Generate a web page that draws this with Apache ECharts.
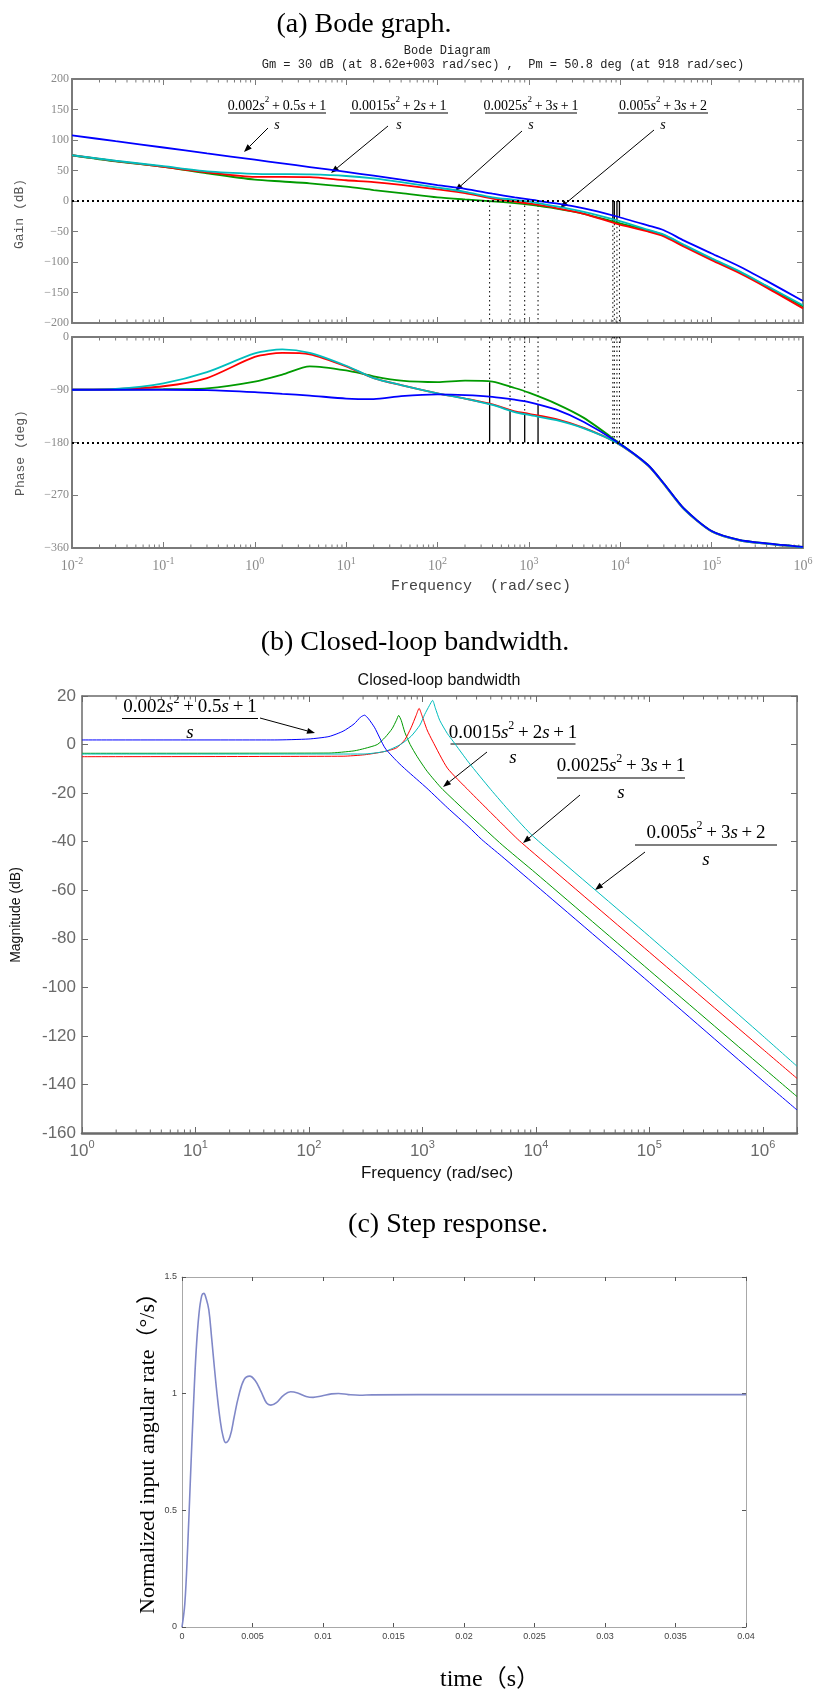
<!DOCTYPE html>
<html>
<head>
<meta charset="utf-8">
<title>Bode graph / closed-loop bandwidth / step response</title>
<script src="https://cdn.jsdelivr.net/npm/echarts@6/dist/echarts.min.js"></script>
<style>
  html, body { margin: 0; padding: 0; background: #fff; }
  #main { width: 816px; height: 1693px; }
</style>
</head>
<body>
<div id="main"></div>
<script>
// ---------------- (a) Bode data (open loop) ----------------
const bodeFreq = [0.01, 0.03, 0.1, 0.3, 1, 2, 4, 10, 20, 40, 100, 200, 400, 700, 1000,
  2000, 4000, 9000, 20000, 30000, 50000, 100000, 200000, 400000, 1000000];

const gainBlue  = [107.7, 98, 87.7, 78, 67.7, 61.7, 55.7, 47.7, 41.5, 35, 26, 20, 12, 6, 2.5,
  -4, -12, -25, -40, -48, -65, -86, -107, -131, -164];
const gainRed   = [75, 65.5, 56, 47, 39.5, 39.5, 39, 34, 31, 26.5, 19, 13, 4, -1, -4,
  -11.5, -21, -37, -50, -58, -75, -97, -118, -142, -176];
const gainCyan  = [75, 66, 57, 48.5, 44.5, 44, 43.5, 41, 37, 31, 22, 15, 6, 2, -1,
  -9, -18, -31.5, -47, -55, -72, -94, -115, -139, -171];
const gainGreen = [75, 65, 56, 45.5, 35, 32, 29, 23.5, 18, 13, 6, 2.5, -0.5, -3.5, -6,
  -12.5, -21, -35, -48, -56, -73, -95, -116, -140, -173];

const phaseBlue  = [-90, -90, -90, -90.5, -94, -97, -100, -105, -106, -101, -98, -99, -102, -107, -111,
  -124, -145, -178, -218, -250, -293, -331, -346, -352, -358];
const phaseRed   = [-90, -89, -84, -70, -34, -27, -29.5, -50, -70, -82, -96, -105, -115, -127, -131,
  -140, -155, -180, -219, -251, -294, -332, -347, -353, -359];
const phaseCyan  = [-90, -88.5, -79, -60, -28, -21, -27, -49, -70, -82, -96, -105, -116, -128, -133,
  -142, -156, -180, -219, -251, -294, -332, -347, -353, -359];
const phaseGreen = [-90, -89.8, -89, -87.5, -76, -64, -50, -57, -67, -74.5, -77, -74.5, -76, -87, -95,
  -114, -138, -177, -218, -250, -293, -331, -346, -352, -358];

// gain crossover (phase margin) and phase crossover (gain margin) markers
const crossFreq  = [372, 622, 900, 1260];
const crossPhase = [-77, -124, -131, -115];
const gmFreq     = [8300, 8620, 9200, 9800];
const gmGain     = [-33, -30, -35, -25];

// ---------------- (b) closed-loop magnitude, [rad/s, dB] ----------------
const clBlue = [[1, 1.9], [50, 1.9], [100, 2.3], [150, 3.3], [200, 5.5], [250, 8.5], [285, 11.3],
  [309, 12.1], [335, 10.6], [380, 6.9], [468, -1.4], [600, -7], [721, -10.5], [1096, -18],
  [1660, -26], [2570, -34], [3311, -39], [5000, -46], [10000, -58], [100000, -98],
  [1000000, -138.5], [2000000, -150.5]];
const clGreen = [[1, -3.6], [150, -3.5], [250, -2.6], [310, -1.6], [400, 0], [470, 3], [540, 6.5],
  [590, 10], [617, 12], [650, 10], [700, 5], [780, 0], [900, -5], [1100, -11], [1510, -18.5],
  [4786, -40.4], [10000, -53], [100000, -93], [1000000, -133], [2000000, -145]];
const clRed = [[1, -5], [200, -4.8], [310, -4.2], [450, -3], [589, -1.4], [700, 2], [794, 6.9],
  [880, 12], [935, 14.9], [990, 12], [1100, 6], [1230, 1.4], [1660, -9.7], [2570, -19],
  [4000, -28], [6918, -39], [10000, -45.5], [100000, -85.5], [1000000, -125.5], [2000000, -137.5]];
const clCyan = [[1, -3.9], [300, -3.9], [468, -2.8], [640, 0], [794, 3.4], [950, 8], [1047, 12.4],
  [1150, 16], [1230, 18.2], [1300, 15], [1420, 10], [1660, 4.5], [1860, 1.4], [2570, -7.5],
  [4000, -18.5], [6000, -28], [9550, -38], [100000, -79], [1000000, -120], [2000000, -132.5]];

// ---------------- (c) step response ----------------
const stepTime = [0, 0.0002, 0.0004, 0.0006, 0.0008, 0.001, 0.0012, 0.0014, 0.00155, 0.0017,
  0.0019, 0.0021, 0.0023, 0.0025, 0.0027, 0.0029, 0.0031, 0.0034, 0.0037, 0.004, 0.0044,
  0.0048, 0.0052, 0.0056, 0.006, 0.0063, 0.0067, 0.0072, 0.0077, 0.0082, 0.0088, 0.0093,
  0.0099, 0.0106, 0.0111, 0.0118, 0.0126, 0.0135, 0.02, 0.03, 0.04];
const stepValue = [0, 0.1, 0.34, 0.64, 0.93, 1.18, 1.34, 1.42, 1.43, 1.41, 1.36, 1.24, 1.11,
  0.99, 0.89, 0.82, 0.79, 0.815, 0.9, 0.985, 1.06, 1.075, 1.055, 1.01, 0.96, 0.951, 0.962,
  0.993, 1.008, 1.003, 0.988, 0.984, 0.99, 0.999, 1.001, 0.996, 0.993, 0.995, 0.996, 0.996, 0.996];

// ---------------- styling ----------------
const SERIF = '"Liberation Serif", "Times New Roman", serif';
const MONO = '"Liberation Mono", "DejaVu Sans Mono", monospace';
const SANS = '"Liberation Sans", Arial, sans-serif';
const CJK = '"Liberation Serif", "Noto Sans CJK SC", serif';

const BLUE = '#0000ff', RED = '#ff0000', CYAN = '#00bdbd', GREEN = '#009a00';
const BODE_AX = '#7a7a7a', CL_AX = '#6a6a6a', STEP_AX = '#a8a8a8';

function pairs(xs, ys) { return xs.map((x, i) => [x, ys[i]]); }

function logLabel(v) {
  const e = Math.log10(v), r = Math.round(e);
  if (Math.abs(e - r) > 1e-6) return '';
  return '{b|10}{e|' + r + '}';
}

function minorTicks(lo, hi) {
  const out = [];
  for (let d = Math.floor(Math.log10(lo)); d < Math.ceil(Math.log10(hi)); d++) {
    for (let k = 2; k <= 9; k++) {
      const v = k * Math.pow(10, d);
      if (v > lo && v < hi) out.push(v);
    }
  }
  return out;
}

function xLog(grid, min, max, pos, color, width, label) {
  return {
    type: 'log', logBase: 10, gridIndex: grid, min: min, max: max, interval: 1, position: pos,
    axisLine: { show: true, onZero: false, lineStyle: { color: color, width: width } },
    axisTick: { show: true, inside: true, length: 6, lineStyle: { color: color, width: 1 } },
    axisLabel: label ? Object.assign({ show: true, formatter: logLabel, showMinLabel: true, showMaxLabel: true }, label)
                     : { show: false },
    splitLine: { show: false }
  };
}

function yVal(grid, min, max, interval, pos, color, width, label) {
  return {
    type: 'value', gridIndex: grid, min: min, max: max, interval: interval, position: pos,
    axisLine: { show: true, onZero: false, lineStyle: { color: color, width: width } },
    axisTick: { show: true, inside: true, length: 6, lineStyle: { color: color, width: 1 } },
    axisLabel: label ? Object.assign({ show: true }, label) : { show: false },
    splitLine: { show: false }
  };
}

const bodeLabel = {
  margin: 8, color: '#8a8a8a',
  rich: {
    b: { fontFamily: SERIF, fontSize: 14, color: '#8a8a8a', lineHeight: 20 },
    e: { fontFamily: SERIF, fontSize: 10, color: '#8a8a8a', verticalAlign: 'top', lineHeight: 10 }
  }
};
const clLabel = {
  margin: 6, color: '#6a6a6a',
  rich: {
    b: { fontFamily: SANS, fontSize: 17, color: '#6a6a6a', lineHeight: 24 },
    e: { fontFamily: SANS, fontSize: 11, color: '#6a6a6a', verticalAlign: 'top', lineHeight: 11 }
  }
};
const bodeYLabel = {
  margin: 3, fontFamily: SERIF, fontSize: 12, color: '#8a8a8a',
  formatter: v => (v < 0 ? '\u2212' + (-v) : String(v))
};

function curve(data, xi, yi, color, width, smooth) {
  return {
    type: 'line', xAxisIndex: xi, yAxisIndex: yi, data: data, symbol: 'none',
    smooth: smooth, lineStyle: { color: color, width: width }, silent: true, z: 3
  };
}

function seg(xi, yi, x, y1, y2, dotted) {
  return {
    type: 'line', xAxisIndex: xi, yAxisIndex: yi, data: [[x, y1], [x, y2]], symbol: 'none',
    silent: true, z: 2,
    lineStyle: { color: '#000', width: dotted ? 1 : 1.3, type: dotted ? [1.5, 3] : 'solid' }
  };
}

function minorSeries(xi, yi, lo, hi, yRef, color, len) {
  return {
    type: 'custom', xAxisIndex: xi, yAxisIndex: yi, silent: true, clip: false, z: 1,
    data: minorTicks(lo, hi).map(v => [v, yRef]),
    renderItem: function (params, api) {
      const x = api.coord([api.value(0), api.value(1)])[0];
      const cs = params.coordSys;
      const st = { stroke: color, lineWidth: 1 };
      return {
        type: 'group', children: [
          { type: 'line', shape: { x1: x, y1: cs.y + cs.height, x2: x, y2: cs.y + cs.height - len }, style: st },
          { type: 'line', shape: { x1: x, y1: cs.y, x2: x, y2: cs.y + len }, style: st }
        ]
      };
    }
  };
}

// ---------------- series ----------------
const series = [];

// Bode gain (grid 0) and phase (grid 1)
[[gainGreen, GREEN], [gainRed, RED], [gainCyan, CYAN], [gainBlue, BLUE]].forEach(([g, c]) => {
  series.push(curve(pairs(bodeFreq, g), 0, 0, c, 1.8, 0.25));
});
[[phaseGreen, GREEN], [phaseRed, RED], [phaseCyan, CYAN], [phaseBlue, BLUE]].forEach(([p, c]) => {
  series.push(curve(pairs(bodeFreq, p), 2, 2, c, 1.8, 0.25));
});
series[0].markLine = {
  silent: true, symbol: 'none', label: { show: false }, animation: false,
  lineStyle: { color: '#000', width: 2, type: [2, 3] }, data: [{ yAxis: 0 }]
};
series[4].markLine = {
  silent: true, symbol: 'none', label: { show: false }, animation: false,
  lineStyle: { color: '#000', width: 2, type: [2, 3] }, data: [{ yAxis: -180 }]
};

crossFreq.forEach((f, i) => {
  series.push(seg(0, 0, f, 0, -200, true));
  series.push(seg(2, 2, f, 0, crossPhase[i], true));
  series.push(seg(2, 2, f, crossPhase[i], -180, false));
});
gmFreq.forEach((f, i) => {
  series.push(seg(0, 0, f, 0, gmGain[i], false));
  series.push(seg(0, 0, f, gmGain[i], -200, true));
  series.push(seg(2, 2, f, 0, -180, true));
});

// closed-loop (grid 2)
[[clGreen, GREEN], [clRed, RED], [clCyan, CYAN], [clBlue, BLUE]].forEach(([d, c]) => {
  series.push(curve(d, 4, 4, c, 1, 0.2));
});

// step (grid 3)
series.push(curve(pairs(stepTime, stepValue), 6, 6, '#8088c8', 1.6, 0.4));

// minor log ticks
series.push(minorSeries(0, 0, 0.01, 1e6, -200, BODE_AX, 3.5));
series.push(minorSeries(2, 2, 0.01, 1e6, -360, BODE_AX, 3.5));
series.push(minorSeries(4, 4, 1, 2e6, -160, CL_AX, 3.5));

// ---------------- annotations ----------------
function fracRich(size) {
  return {
    i: { fontFamily: SERIF, fontSize: size, fontStyle: 'italic', lineHeight: size + 8 },
    sup: { fontFamily: SERIF, fontSize: Math.round(size * 0.62), verticalAlign: 'top', lineHeight: Math.round(size * 0.62) }
  };
}
function fraction(cx, numY, lineY, sY, halfW, num, size) {
  return [
    { type: 'text', x: cx, y: numY, style: {
      text: num, rich: fracRich(size), fontFamily: SERIF, fontSize: size, lineHeight: size + 8,
      fill: '#000', textAlign: 'center', textVerticalAlign: 'middle' } },
    { type: 'line', shape: { x1: cx - halfW, y1: lineY, x2: cx + halfW, y2: lineY },
      style: { stroke: '#000', lineWidth: 1.2 } },
    { type: 'text', x: cx, y: sY, style: {
      text: 's', fontFamily: SERIF, fontSize: size, fontStyle: 'italic',
      fill: '#000', textAlign: 'center', textVerticalAlign: 'middle' } }
  ];
}
function arrow(x1, y1, x2, y2) {
  const a = Math.atan2(y2 - y1, x2 - x1), L = 8, W = 3;
  const bx = x2 - L * Math.cos(a), by = y2 - L * Math.sin(a);
  const px = -Math.sin(a) * W, py = Math.cos(a) * W;
  return [
    { type: 'line', shape: { x1: x1, y1: y1, x2: bx, y2: by }, style: { stroke: '#000', lineWidth: 1 } },
    { type: 'polygon', shape: { points: [[x2, y2], [bx + px, by + py], [bx - px, by - py]] }, style: { fill: '#000' } }
  ];
}
function label(x, y, text, family, size, color, rot) {
  return { type: 'text', x: x, y: y, rotation: rot || 0, style: {
    text: text, fontFamily: family, fontSize: size, fill: color,
    textAlign: 'center', textVerticalAlign: 'middle' } };
}

const T = '\u2009+\u2009';
const formulas = [
  '0.002{i|s}{sup|2}' + T + '0.5{i|s}' + T + '1',
  '0.0015{i|s}{sup|2}' + T + '2{i|s}' + T + '1',
  '0.0025{i|s}{sup|2}' + T + '3{i|s}' + T + '1',
  '0.005{i|s}{sup|2}' + T + '3{i|s}' + T + '2'
];

let elements = [
  label(364, 25, '(a) Bode graph.', SERIF, 28, '#000'),
  label(447, 51, 'Bode Diagram', MONO, 12, '#222'),
  label(503, 65, 'Gm = 30 dB (at 8.62e+003 rad/sec) ,  Pm = 50.8 deg (at 918 rad/sec)', MONO, 12, '#222'),
  label(20, 214, 'Gain (dB)', MONO, 13, '#555', Math.PI / 2),
  label(21, 453, 'Phase (deg)', MONO, 13, '#555', Math.PI / 2),
  label(481, 586, 'Frequency  (rad/sec)', MONO, 15, '#444'),
  label(415, 643, '(b) Closed-loop bandwidth.', SERIF, 28, '#000'),
  label(439, 681, 'Closed-loop bandwidth', SANS, 16, '#111'),
  label(16, 915, 'Magnitude (dB)', SANS, 14, '#111', Math.PI / 2),
  label(437, 1173, 'Frequency (rad/sec)', SANS, 17, '#111'),
  label(448, 1225, '(c) Step response.', SERIF, 28, '#000'),
  label(148, 1448, 'Normalized input angular rate（°/s）', CJK, 22, '#000', Math.PI / 2),
  label(490, 1680, 'time（s）', CJK, 24, '#000')
];

// Bode annotations
[[277, 49], [399, 49], [531, 46], [663, 45]].forEach(([cx, hw], i) => {
  elements = elements.concat(fraction(cx, 106, 113, 125, hw, formulas[i], 14));
});
[[268, 128, 244, 152], [388, 126, 331, 173], [522, 131, 455, 191], [654, 130, 560, 208]]
  .forEach(a => { elements = elements.concat(arrow(a[0], a[1], a[2], a[3])); });

// closed-loop annotations
[[190, 707, 718.5, 733, 68], [513, 733, 744, 758, 62.5], [621, 766, 778, 793, 64], [706, 833, 845, 860, 71]]
  .forEach((p, i) => { elements = elements.concat(fraction(p[0], p[1], p[2], p[3], p[4], formulas[i], 19)); });
[[260, 718, 315, 733], [487, 752, 443, 787], [580, 795, 523, 843], [645, 852, 595, 890]]
  .forEach(a => { elements = elements.concat(arrow(a[0], a[1], a[2], a[3])); });

// ---------------- chart ----------------
const chart = echarts.init(document.getElementById('main'), null, { width: 816, height: 1693 });

const option = {
  backgroundColor: '#fff',
  animation: false,
  grid: [
    { left: 72, top: 79, width: 731, height: 244, outerBoundsMode: 'none' },
    { left: 72, top: 337, width: 731, height: 211, outerBoundsMode: 'none' },
    { left: 82, top: 696, width: 715, height: 437, outerBoundsMode: 'none' },
    { left: 182, top: 1277, width: 564, height: 350, outerBoundsMode: 'none' }
  ],
  xAxis: [
    xLog(0, 0.01, 1e6, 'bottom', BODE_AX, 2, null),
    xLog(0, 0.01, 1e6, 'top', BODE_AX, 2, null),
    xLog(1, 0.01, 1e6, 'bottom', BODE_AX, 2, bodeLabel),
    xLog(1, 0.01, 1e6, 'top', BODE_AX, 2, null),
    xLog(2, 1, 2e6, 'bottom', CL_AX, 2.5, clLabel),
    xLog(2, 1, 2e6, 'top', CL_AX, 1.5, null),
    {
      type: 'value', gridIndex: 3, min: 0, max: 0.04, interval: 0.005, position: 'bottom',
      axisLine: { show: true, onZero: false, lineStyle: { color: STEP_AX, width: 1 } },
      axisTick: { show: true, inside: true, length: 4, lineStyle: { color: '#555' } },
      axisLabel: { margin: 5, fontFamily: SANS, fontSize: 9, color: '#444' },
      splitLine: { show: false }
    },
    {
      type: 'value', gridIndex: 3, min: 0, max: 0.04, interval: 0.005, position: 'top',
      axisLine: { show: true, onZero: false, lineStyle: { color: STEP_AX, width: 1 } },
      axisTick: { show: true, inside: true, length: 4, lineStyle: { color: '#555' } },
      axisLabel: { show: false }, splitLine: { show: false }
    }
  ],
  yAxis: [
    yVal(0, -200, 200, 50, 'left', BODE_AX, 2, bodeYLabel),
    yVal(0, -200, 200, 50, 'right', BODE_AX, 2, null),
    yVal(1, -360, 0, 90, 'left', BODE_AX, 2, bodeYLabel),
    yVal(1, -360, 0, 90, 'right', BODE_AX, 2, null),
    yVal(2, -160, 20, 20, 'left', CL_AX, 1.5, { margin: 6, fontFamily: SANS, fontSize: 17, color: '#6a6a6a' }),
    yVal(2, -160, 20, 20, 'right', CL_AX, 1.5, null),
    {
      type: 'value', gridIndex: 3, min: 0, max: 1.5, interval: 0.5, position: 'left',
      axisLine: { show: true, onZero: false, lineStyle: { color: STEP_AX, width: 1 } },
      axisTick: { show: true, inside: true, length: 4, lineStyle: { color: '#555' } },
      axisLabel: { margin: 5, fontFamily: SANS, fontSize: 9, color: '#444' },
      splitLine: { show: false }
    },
    {
      type: 'value', gridIndex: 3, min: 0, max: 1.5, interval: 0.5, position: 'right',
      axisLine: { show: true, onZero: false, lineStyle: { color: STEP_AX, width: 1 } },
      axisTick: { show: true, inside: true, length: 4, lineStyle: { color: '#555' } },
      axisLabel: { show: false }, splitLine: { show: false }
    }
  ],
  series: series,
  graphic: { elements: elements }
};

chart.setOption(option);
</script>
</body>
</html>
